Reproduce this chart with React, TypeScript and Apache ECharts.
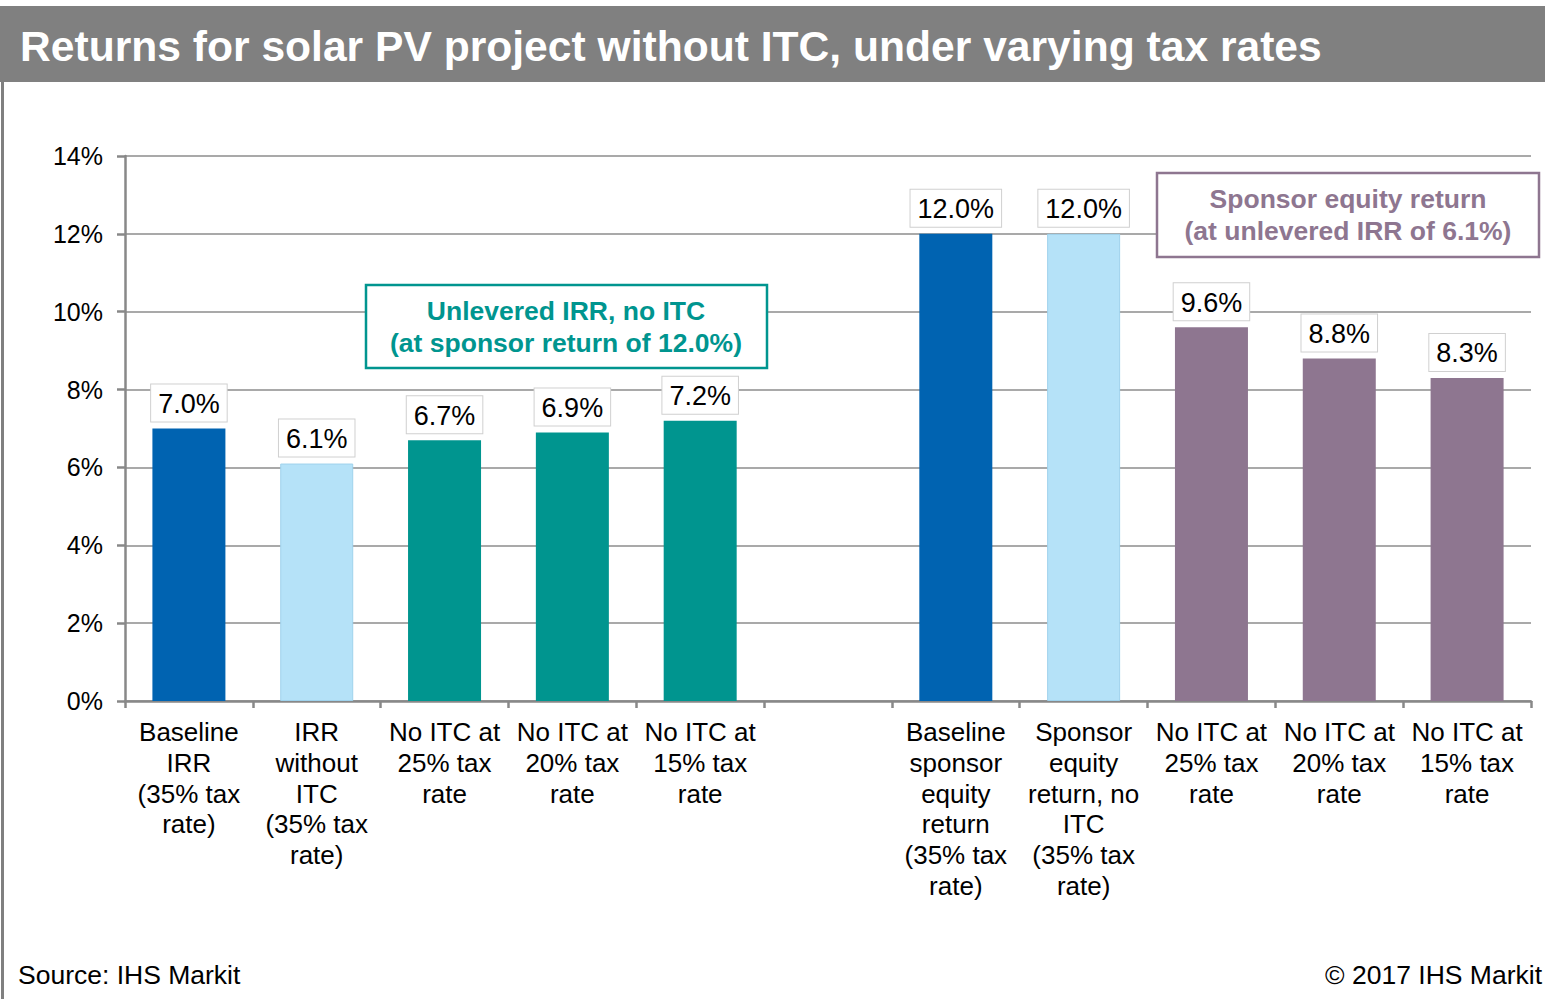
import React, { useEffect, useRef } from "react";
import * as echarts from "echarts";

const categories: string[] = [
  "Baseline\nIRR\n(35% tax\nrate)",
  "IRR\nwithout\nITC\n(35% tax\nrate)",
  "No ITC at\n25% tax\nrate",
  "No ITC at\n20% tax\nrate",
  "No ITC at\n15% tax\nrate",
  "",
  "Baseline\nsponsor\nequity\nreturn\n(35% tax\nrate)",
  "Sponsor\nequity\nreturn, no\nITC\n(35% tax\nrate)",
  "No ITC at\n25% tax\nrate",
  "No ITC at\n20% tax\nrate",
  "No ITC at\n15% tax\nrate",
];

const values: (number | null)[] = [7.0, 6.1, 6.7, 6.9, 7.2, null, 12.0, 12.0, 9.6, 8.8, 8.3];

const barColors: string[] = [
  "#0063B1", "#B5E2F8", "#00958F", "#00958F", "#00958F", "#ffffff",
  "#0063B1", "#B5E2F8", "#8E7690", "#8E7690", "#8E7690",
];

const yTicks = { min: 0, max: 14, interval: 2 };

const title = "Returns for solar PV project without ITC, under varying tax rates";
const leftNote = ["Unlevered IRR, no ITC", "(at sponsor return of 12.0%)"];
const rightNote = ["Sponsor equity return", "(at unlevered IRR of 6.1%)"];
const source = "Source: IHS Markit";
const copyright = "© 2017 IHS Markit";

const FONT = "'Liberation Sans', Arial, sans-serif";

export default function App() {
  const ref = useRef<HTMLDivElement>(null);
  useEffect(() => {
    if (!ref.current) return;
    const chart = echarts.init(ref.current, null, { renderer: "svg" });
    const teal = "#00958F";
    const mauve = "#8E7690";
    chart.setOption({
      animation: false,
      backgroundColor: "#ffffff",
      textStyle: { fontFamily: FONT },
      grid: { left: 125, right: 14, top: 156, bottom: 298 },
      xAxis: {
        type: "category",
        data: categories,
        boundaryGap: true,
        axisLine: { lineStyle: { color: "#888888", width: 2.5 } },
        axisTick: { show: true, interval: 0, length: 7, lineStyle: { color: "#888888", width: 2.5 } },
        axisLabel: {
          interval: 0,
          color: "#000000",
          fontSize: 26,
          fontFamily: FONT,
          lineHeight: 30.7,
          margin: 16,
          align: "center",
        },
      },
      yAxis: {
        type: "value",
        min: yTicks.min,
        max: yTicks.max,
        interval: yTicks.interval,
        axisLine: { show: true, lineStyle: { color: "#888888", width: 2.5 } },
        axisTick: { show: true, length: 8, lineStyle: { color: "#888888", width: 2.5 } },
        axisLabel: {
          formatter: "{value}%",
          color: "#000000",
          fontSize: 25,
          fontFamily: FONT,
          margin: 22,
        },
        splitLine: { show: true, lineStyle: { color: "#8c8c8c", width: 1.5 } },
      },
      series: [
        {
          type: "bar",
          barWidth: 73,
          data: values.map((v, i) => ({
            value: v,
            itemStyle: {
              color: barColors[i],
              borderColor: barColors[i] === "#B5E2F8" ? "#9fd2ec" : barColors[i],
              borderWidth: barColors[i] === "#B5E2F8" ? 1 : 0,
            },
          })),
          label: {
            show: true,
            position: "top",
            distance: 7,
            formatter: (p: any) => (p.value == null ? "" : Number(p.value).toFixed(1) + "%"),
            color: "#000000",
            fontSize: 27,
            fontFamily: FONT,
            backgroundColor: "#ffffff",
            borderColor: "#d0d0d0",
            borderWidth: 1,
            padding: [6, 7, 4, 7],
          },
        },
      ],
      graphic: [
        { type: "rect", shape: { x: 0, y: 6, width: 1545, height: 76 }, style: { fill: "#808080" }, z: 10 },
        {
          type: "text", x: 20, y: 46, z: 11,
          style: { text: title, fill: "#ffffff", font: `bold 42.6px ${FONT}`, verticalAlign: "middle", textAlign: "left" },
        },
        { type: "rect", shape: { x: 1, y: 82, width: 3, height: 917 }, style: { fill: "#808080" }, z: 10 },
        {
          type: "rect", shape: { x: 366, y: 285, width: 401, height: 83 },
          style: { fill: "#ffffff", stroke: teal, lineWidth: 2.5 }, z: 10,
        },
        {
          type: "text", x: 566, y: 311, z: 11,
          style: { text: leftNote[0], fill: teal, font: `bold 26.5px ${FONT}`, textAlign: "center", verticalAlign: "middle" },
        },
        {
          type: "text", x: 566, y: 343, z: 11,
          style: { text: leftNote[1], fill: teal, font: `bold 26.5px ${FONT}`, textAlign: "center", verticalAlign: "middle" },
        },
        {
          type: "rect", shape: { x: 1157, y: 173, width: 382, height: 84 },
          style: { fill: "#ffffff", stroke: mauve, lineWidth: 2.5 }, z: 10,
        },
        {
          type: "text", x: 1348, y: 199, z: 11,
          style: { text: rightNote[0], fill: mauve, font: `bold 26.5px ${FONT}`, textAlign: "center", verticalAlign: "middle" },
        },
        {
          type: "text", x: 1348, y: 231, z: 11,
          style: { text: rightNote[1], fill: mauve, font: `bold 26.5px ${FONT}`, textAlign: "center", verticalAlign: "middle" },
        },
        {
          type: "text", x: 18, y: 975, z: 11,
          style: { text: source, fill: "#000000", font: `26.5px ${FONT}`, textAlign: "left", verticalAlign: "middle" },
        },
        {
          type: "text", x: 1542, y: 975, z: 11,
          style: { text: copyright, fill: "#000000", font: `26.5px ${FONT}`, textAlign: "right", verticalAlign: "middle" },
        },
      ],
    });
    return () => chart.dispose();
  }, []);
  return (
    <div
      ref={ref}
      style={{ position: "fixed", left: 0, top: 0, width: 1545, height: 999 }}
    />
  );
}
